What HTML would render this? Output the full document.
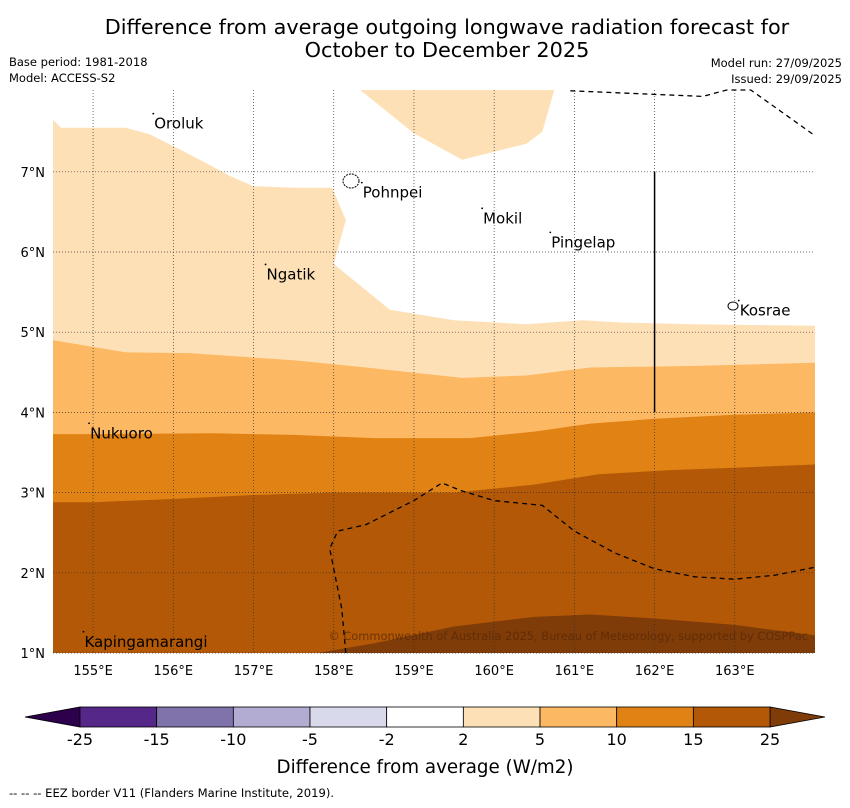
<!DOCTYPE html>
<html><head><meta charset="utf-8"><style>
body{margin:0;background:#fff;width:850px;height:804px;overflow:hidden;font-family:"DejaVu Sans","Liberation Sans",sans-serif}
</style></head><body>
<svg id="chart" width="850" height="804" xmlns="http://www.w3.org/2000/svg" font-family="DejaVu Sans, Liberation Sans, sans-serif">
<text x="447" y="34" font-size="20.8" text-anchor="middle">Difference from average outgoing longwave radiation forecast for</text>
<text x="447" y="57" font-size="20.8" text-anchor="middle">October to December 2025</text>
<text x="9" y="66" font-size="11.5">Base period: 1981-2018</text>
<text x="9" y="82" font-size="11.5">Model: ACCESS-S2</text>
<text x="842" y="67" font-size="11.5" text-anchor="end">Model run: 27/09/2025</text>
<text x="842" y="83" font-size="11.5" text-anchor="end">Issued: 29/09/2025</text>
<g id="map"></g>
<g id="cbar"></g>
<text x="425" y="773" font-size="18.3" text-anchor="middle">Difference from average (W/m2)</text>
<text x="9" y="797" font-size="11.6">--  --  -- EEZ border V11 (Flanders Marine Institute, 2019).</text>
</svg>
<script>
const lonTicks=[155,156,157,158,159,160,161,162,163];
const latTicks=[1,2,3,4,5,6,7];
const b2=[[154.5,7.65],[154.6,7.55],[155.4,7.55],[155.7,7.47],[156.2,7.22],[156.7,6.95],[157.0,6.82],[157.5,6.8],[157.98,6.8],[158.15,6.4],[158.0,5.85],[158.7,5.28],[159.5,5.15],[160.4,5.1],[161.1,5.15],[161.6,5.12],[162.5,5.1],[164,5.08]];
const b2blob=[[158.33,8.02],[159.0,7.48],[159.6,7.15],[160.4,7.35],[160.6,7.5],[160.75,8.02]];
const b5=[[154.5,4.9],[155.4,4.75],[156.2,4.74],[157.5,4.65],[158.5,4.55],[159.6,4.43],[160.4,4.46],[161.2,4.56],[162.5,4.58],[164,4.62]];
const b10=[[154.5,3.73],[155,3.73],[156.5,3.74],[157.5,3.72],[158.5,3.68],[159.7,3.68],[160.5,3.76],[161.2,3.86],[162.0,3.92],[163,3.97],[164,4.0]];
const b15=[[154.5,2.88],[155,2.88],[156,2.92],[157,2.97],[158,3.0],[159.5,3.0],[160.5,3.1],[161.3,3.23],[162.2,3.28],[163,3.31],[164,3.35]];
const b25=[[154.5,1.0],[157.8,1.0],[158.5,1.12],[159.5,1.33],[160.5,1.45],[161.2,1.48],[162,1.43],[163,1.35],[164,1.22]];
const eezTop=[[160.95,8.01],[162.6,7.94],[162.9,8.02],[163.2,8.02],[164,7.45]];
const eezBottom=[[158.15,1.0],[158.1,1.55],[157.95,2.3],[158.05,2.52],[158.4,2.6],[159,2.9],[159.35,3.12],[159.6,3.02],[160,2.9],[160.6,2.84],[161,2.52],[161.5,2.25],[162,2.05],[162.5,1.95],[163,1.92],[163.5,1.97],[164,2.07]];
const islands=[["Oroluk",155.75,7.6],["Pohnpei",158.35,6.74],["Mokil",159.85,6.42],["Pingelap",160.7,6.12],["Ngatik",157.15,5.72],["Kosrae",163.05,5.27],["Nukuoro",154.95,3.74],["Kapingamarangi",154.88,1.14]];
const cbLevels=["-25","-15","-10","-5","-2","2","5","10","15","25"];
const cbColors=["#542788","#8073ac","#b2abd2","#d8daeb","#ffffff","#fee0b6","#fdb863","#e08214","#b35806"];
const NS="http://www.w3.org/2000/svg";
const x=lon=>53+(lon-154.5)*80.21;
const y=lat=>653-(lat-1)*80.2;
function mk(t,a,p){const e=document.createElementNS(NS,t);for(const k in a)e.setAttribute(k,a[k]);p.appendChild(e);return e;}
const map=document.getElementById('map');
const pts=a=>a.map(p=>x(p[0]).toFixed(1)+','+y(p[1]).toFixed(1)).join(' ');
const below=a=>pts(a)+' '+x(164)+','+y(1)+' '+x(154.5)+','+y(1);
const bands=[[b2,"#fee0b6","band-2-5"],[b5,"#fdb863","band-5-10"],[b10,"#e08214","band-10-15"],[b15,"#b35806","band-15-25"],[b25,"#7f3b08","band-over-25"]];
bands.forEach(b=>{const e=mk('polygon',{points:below(b[0]),fill:b[1]},map);

});
const blob=mk('polygon',{points:pts(b2blob),fill:"#fee0b6"},map);


lonTicks.forEach(l=>{const g=mk('line',{x1:x(l),x2:x(l),y1:y(8.02),y2:y(1),stroke:"#333","stroke-width":0.7,"stroke-dasharray":"1,2"},map);


const t=mk('text',{x:x(l),y:675,"font-size":13,"text-anchor":"middle"},map);t.textContent=l+"°E";

});
latTicks.forEach(l=>{const g=mk('line',{x1:x(154.5),x2:x(164),y1:y(l),y2:y(l),stroke:"#333","stroke-width":0.7,"stroke-dasharray":"1,2"},map);


const t=mk('text',{x:45,y:y(l)+5,"font-size":13,"text-anchor":"end"},map);t.textContent=l+"°N";

});
[eezTop,eezBottom].forEach(a=>{const e=mk('polyline',{points:pts(a),fill:"none",stroke:"#000","stroke-width":1.3,"stroke-dasharray":"5,4"},map);

});
const vl=mk('line',{x1:x(162),x2:x(162),y1:y(7),y2:y(4),stroke:"#000","stroke-width":1.5},map);


islands.forEach(i=>{const d=mk('circle',{cx:x(i[1]),cy:y(i[2])-10,r:0.9,fill:"#000"},map);


const t=mk('text',{x:x(i[1])+1,y:y(i[2])+5,"font-size":15},map);t.textContent=i[0];

});
const ph=mk('ellipse',{cx:351,cy:181,rx:8,ry:7,fill:"#fff",stroke:"#000","stroke-width":1,"stroke-dasharray":"2,1"},map);


const ko=mk('ellipse',{cx:733,cy:306,rx:5,ry:4,fill:"#fff",stroke:"#000","stroke-width":1},map);


const cp=mk('text',{x:808,y:640,"font-size":11.4,"text-anchor":"end",fill:"#5a2a05","fill-opacity":0.8},map);cp.textContent="© Commonwealth of Australia 2025, Bureau of Meteorology, supported by COSPPac";


const cb=document.getElementById('cbar');
const cx=i=>80+i*76.67, cy0=707, cy1=727;
const lt=mk('polygon',{points:`25,717 ${cx(0)},${cy0} ${cx(0)},${cy1}`,fill:"#2d004b",stroke:"#000","stroke-width":0.8},cb);


const rt=mk('polygon',{points:`825,717 ${cx(9)},${cy0} ${cx(9)},${cy1}`,fill:"#7f3b08",stroke:"#000","stroke-width":0.8},cb);


cbColors.forEach((c,i)=>{const r=mk('rect',{x:cx(i),y:cy0,width:76.67,height:20,fill:c,stroke:"#000","stroke-width":0.8},cb);

});
cbLevels.forEach((l,i)=>{const t=mk('text',{x:cx(i),y:745,"font-size":16,"text-anchor":"middle"},cb);t.textContent=l;

});
</script>
</body></html>
